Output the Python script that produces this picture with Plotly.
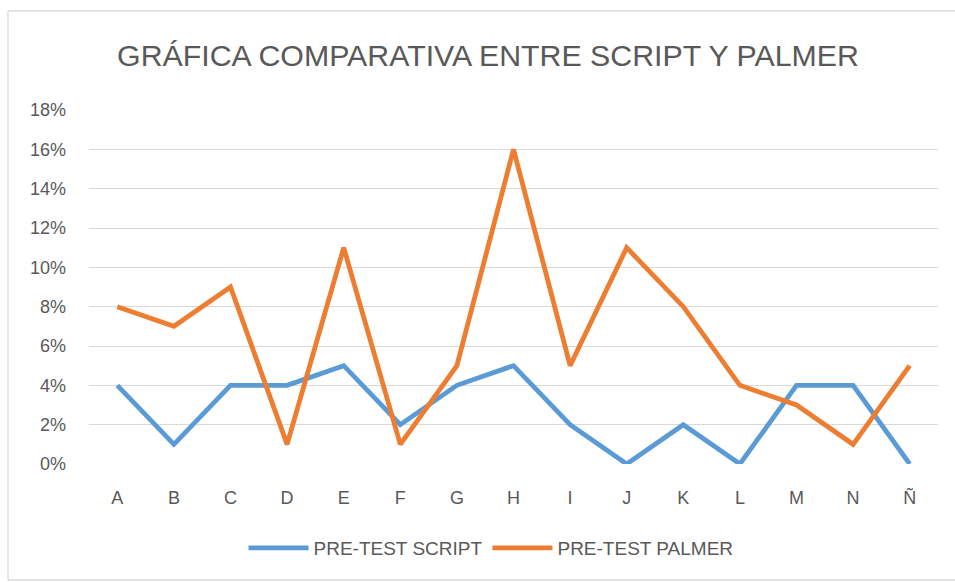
import plotly.graph_objects as go

categories = ["A", "B", "C", "D", "E", "F", "G", "H", "I", "J", "K", "L", "M", "N", "Ñ"]
script_vals = [0.04, 0.01, 0.04, 0.04, 0.05, 0.02, 0.04, 0.05, 0.02, 0.00, 0.02, 0.00, 0.04, 0.04, 0.00]
palmer_vals = [0.08, 0.07, 0.09, 0.01, 0.11, 0.01, 0.05, 0.16, 0.05, 0.11, 0.08, 0.04, 0.03, 0.01, 0.05]
y_ticks = [0, 0.02, 0.04, 0.06, 0.08, 0.10, 0.12, 0.14, 0.16, 0.18]

W, H = 955, 582
L, R, T, B = 89, 938, 110, 464

def px(x):
    return (x - L) / (R - L)

def py(y):
    return (B - y) / (B - T)

FONT = "Liberation Sans Narrow, Liberation Sans, Arial Narrow, sans-serif"
GRAY = "#595959"
BORDER = dict(color="#D9D9D9", width=1.3)

fig = go.Figure()
fig.add_trace(go.Scatter(x=categories, y=script_vals, mode="lines", name="PRE-TEST SCRIPT",
                         line=dict(color="#5B9BD5", width=4.8)))
fig.add_trace(go.Scatter(x=categories, y=palmer_vals, mode="lines", name="PRE-TEST PALMER",
                         line=dict(color="#ED7D31", width=4.8)))

border_shapes = [
    dict(type="line", xref="paper", yref="paper", x0=px(8), x1=px(955), y0=py(11), y1=py(11), line=BORDER, layer="below"),
    dict(type="line", xref="paper", yref="paper", x0=px(8), x1=px(8), y0=py(11), y1=py(580), line=BORDER, layer="below"),
    dict(type="line", xref="paper", yref="paper", x0=px(8), x1=px(955), y0=py(580), y1=py(580), line=BORDER, layer="below"),
]

fig.update_layout(
    width=W, height=H,
    margin=dict(l=L, r=W - R, t=T, b=H - B),
    paper_bgcolor="white", plot_bgcolor="white",
    font=dict(family=FONT, color=GRAY, size=18),
    title=dict(text="GRÁFICA COMPARATIVA ENTRE SCRIPT Y PALMER",
               xref="container", x=488 / W, xanchor="center",
               yref="container", y=1 - 55 / H, yanchor="middle",
               font=dict(size=30.3, color=GRAY, family=FONT)),
    xaxis=dict(type="category", range=[-0.5, len(categories) - 0.5],
               showgrid=False, zeroline=False, showline=False,
               ticks="", tickfont=dict(size=18, color=GRAY), ticklabelstandoff=21),
    yaxis=dict(range=[0, 0.18], tickvals=y_ticks, tickformat=".0%",
               showgrid=True, gridcolor="#D9D9D9", gridwidth=1.3, zeroline=False,
               showline=False, ticks="", ticklabelstandoff=22,
               tickfont=dict(size=18, color=GRAY)),
    legend=dict(orientation="h", x=px(491), xanchor="center", y=py(548), yanchor="middle",
                font=dict(size=19, color=GRAY), itemwidth=60, traceorder="normal"),
    showlegend=True,
    shapes=border_shapes,
)

fig.write_html("out.html", config={"displayModeBar": False},
               post_script="document.body.style.margin='0';document.body.style.overflow='hidden';")
